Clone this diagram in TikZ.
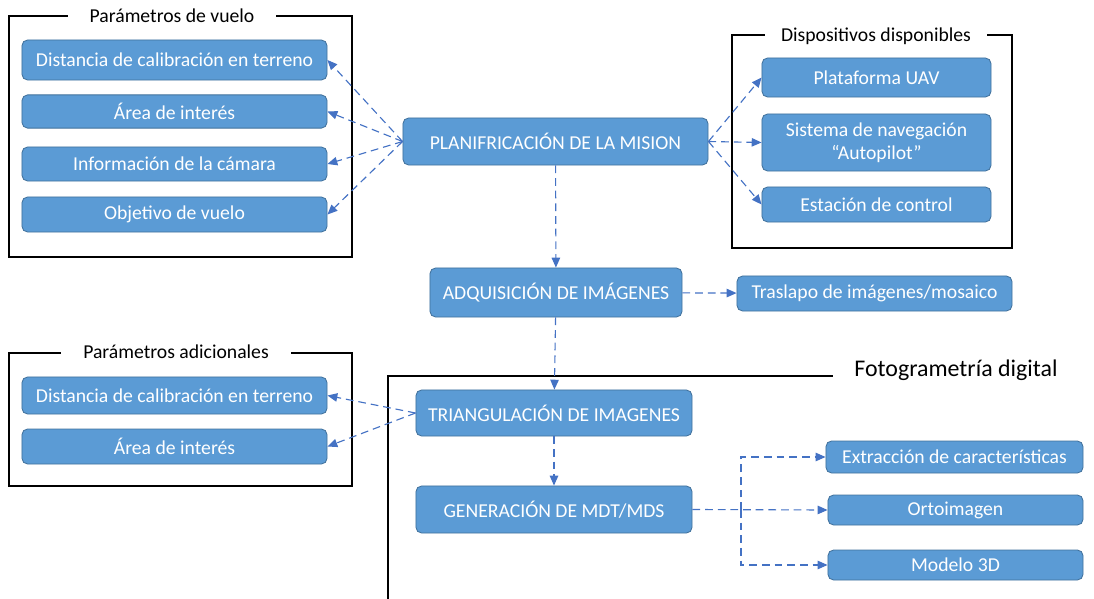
\documentclass[tikz,border=0pt]{standalone}
\usepackage{fontspec}
\setmainfont{Carlito}
\usepackage{xcolor}
\usepackage{tikz}
\usetikzlibrary{positioning, arrows.meta, calc}

\definecolor{cajaazul}{HTML}{5B9BD5}
\definecolor{bordeazul}{HTML}{41719C}
\definecolor{flechaazul}{HTML}{4472C4}

\begin{document}
\begin{tikzpicture}[x=0.025cm, y=-0.025cm,
        font=\fontsize{14}{16.5}\selectfont,
        caja/.style={draw=bordeazul, line width=0.6pt, fill=cajaazul, text=white,
                     rounded corners=4pt, align=center, inner sep=2pt,
                     minimum width=7.625cm, minimum height=0.85cm},
        flecha/.style={draw=flechaazul, line width=0.8pt, dash pattern=on 5.5pt off 3.5pt,
                       -{Triangle[length=7pt, width=6pt]}},
        marco/.style={draw=black, line width=1.5pt},
        titulo/.style={fill=white, inner xsep=0.55cm, inner ysep=1pt}]
        \useasboundingbox (0,0) rectangle (1094,599);

        % Marcos
        \draw[marco] (9,16) rectangle (352,257);
        \draw[marco] (732,35) rectangle (1012,248);
        \draw[marco] (9,353) rectangle (352,486);
        \draw[marco] (388,599) -- (388,376) -- (833,376);

        \node[titulo] (pv) at (172,16)  {Parámetros de vuelo};
        \node[titulo, inner xsep=0.4cm] (dd) at (876,36) {Dispositivos disponibles};
        \node[titulo] (pa) at (176,352) {Parámetros adicionales};
        \node[font=\fontsize{17}{20}\selectfont] (fd) at (956,370) {Fotogrametría digital};

        % Parametros de vuelo
        \node[caja, minimum height=1.0cm]   (v1) at (174.5,60)    {Distancia de calibración en terreno};
        \node[caja, minimum height=0.83cm]  (v2) at (174.5,111.5) {Área de interés};
        \node[caja]                         (v3) at (174.5,164)   {Información de la cámara};
        \node[caja, minimum height=0.875cm] (v4) at (174.5,214.5) {Objetivo de vuelo};

        % Flujo principal
        \node[caja, minimum height=1.175cm] (plan) at (555.5,141.5) {PLANIFRICACIÓN DE LA MISION};
        \node[caja, minimum width=6.3cm, minimum height=1.225cm] (adq) at (556,292.5) {ADQUISICIÓN DE IMÁGENES};
        \node[caja, minimum width=6.9cm, minimum height=1.15cm]  (tri) at (554,413)   {TRIANGULACIÓN DE IMAGENES};
        \node[caja, minimum width=6.9cm, minimum height=1.175cm] (gen) at (554,509.5) {GENERACIÓN DE MDT/MDS};

        % Dispositivos disponibles
        \node[caja, minimum width=5.725cm, minimum height=0.975cm] (d1) at (876.5,77.5)  {Plataforma UAV};
        \node[caja, minimum width=5.725cm, minimum height=1.425cm] (d2) at (876.5,142.5) {Sistema de navegación\\“Autopilot”};
        \node[caja, minimum width=5.725cm, minimum height=0.875cm] (d3) at (876.5,204.5) {Estación de control};

        \node[caja, minimum width=6.875cm, minimum height=0.875cm] (tras) at (874.5,293.5) {Traslapo de imágenes/mosaico};

        % Parametros adicionales
        \node[caja, minimum height=0.925cm] (a1) at (174.5,395.5) {Distancia de calibración en terreno};
        \node[caja, minimum height=0.875cm] (a2) at (174.5,446.5) {Área de interés};

        % Productos
        \node[caja, minimum width=6.425cm, minimum height=0.8cm]  (ext) at (954.5,457) {Extracción de características};
        \node[caja, minimum width=6.375cm, minimum height=0.75cm] (ort) at (955.5,510) {Ortoimagen};
        \node[caja, minimum width=6.375cm, minimum height=0.75cm] (mod) at (955.5,565) {Modelo 3D};

        % Conexiones
        \draw[flecha] (plan.west) -- (v1.east);
        \draw[flecha] (plan.west) -- (v2.east);
        \draw[flecha] (plan.west) -- (v3.east);
        \draw[flecha] (plan.west) -- (v4.east);

        \draw[flecha] (plan.east) -- (d1.west);
        \draw[flecha] (plan.east) -- (d2.west);
        \draw[flecha] (plan.east) -- (d3.west);

        \draw[flecha] (plan) -- (adq);
        \draw[flecha] (adq) -- (tras);
        \draw[flecha] (adq) -- (tri);
        \draw[flecha] (tri) -- (gen);

        \draw[flecha] (tri.west) -- (a1.east);
        \draw[flecha] (tri.west) -- (a2.east);

        \coordinate (rama) at (741,510);
        \draw[flecha] (gen.east) -- (ort.west);
        \draw[flecha] (rama) |- (ext.west);
        \draw[flecha] (rama) |- (mod.west);
    \end{tikzpicture}
\end{document}
